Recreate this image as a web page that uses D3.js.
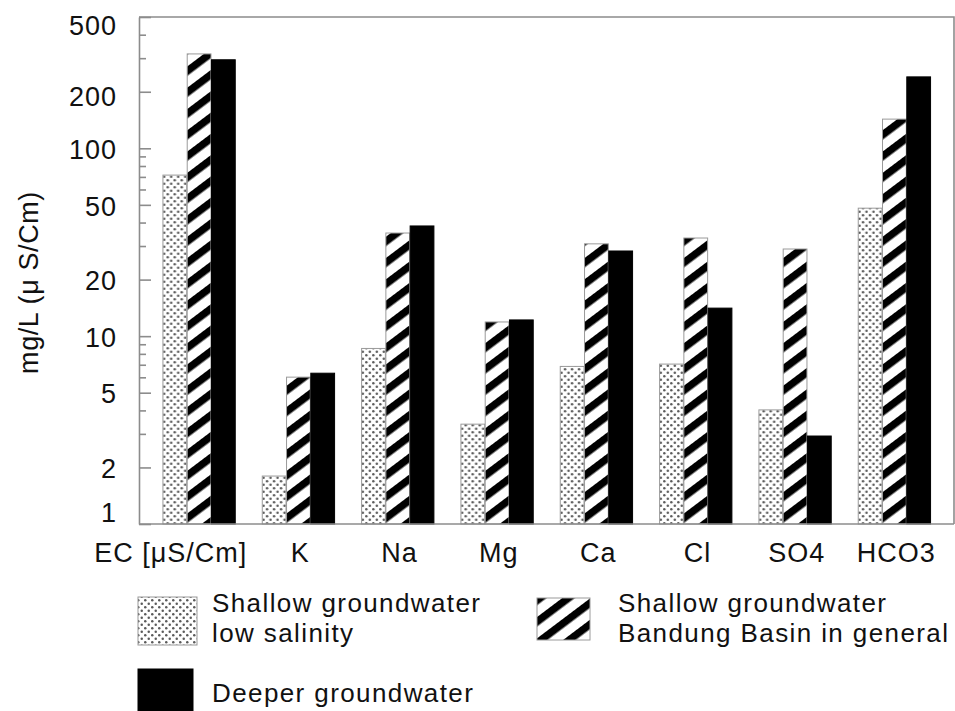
<!DOCTYPE html>
<html>
<head>
<meta charset="utf-8">
<script src="https://cdn.jsdelivr.net/npm/d3@7"></script>
<style>
  html, body { margin: 0; padding: 0; background: #fff; }
  svg text { font-family: "Liberation Sans", Arial, sans-serif; fill: #111; }
</style>
</head>
<body>
<svg id="chart" width="955" height="711"></svg>
<script>
// Mean hydrochemistry of Bandung groundwater groups
const categories = ["EC [μS/Cm]", "K", "Na", "Mg", "Ca", "Cl", "SO4", "HCO3"];
const seriesNames = ["low", "general", "deeper"];
const shallowLowSalinity = [72, 1.8, 8.6, 3.4, 6.9, 7.1, 4.05, 48];
const shallowGeneral = [318, 6.05, 35.4, 11.9, 31, 33.3, 29.1, 143];
const deeperGroundwater = [296, 6.35, 38.6, 12.2, 28.4, 14.1, 2.94, 240];
const majorTicks = [1, 2, 5, 10, 20, 50, 100, 200, 500];
const minorTicks = [3, 4, 6, 7, 8, 9, 30, 40, 60, 70, 80, 90, 300, 400];
const yTitle = "mg/L (μ S/Cm)";
const legendItems = [
  { key: "low", lines: ["Shallow groundwater", "low salinity"] },
  { key: "general", lines: ["Shallow groundwater", "Bandung Basin in general"] },
  { key: "deeper", lines: ["Deeper groundwater"] }
];

const values = { low: shallowLowSalinity, general: shallowGeneral, deeper: deeperGroundwater };
const rows = categories.map((c, i) => ({
  cat: c,
  bars: seriesNames.map(s => ({ key: s, value: values[s][i] }))
}));

const svg = d3.select("#chart");
const margin = { left: 139, top: 17, right: 1, bottom: 187 };
const W = 955, H = 711;
const x0 = margin.left, x1 = W - margin.right;
const yTop = margin.top, yBot = H - margin.bottom;

const FONT = 27, LS = 1.0;
const AXIS_COLOR = "#8c8c8c";

// patterns
const defs = svg.append("defs");
const dots = defs.append("pattern").attr("id", "stipple")
  .attr("patternUnits", "userSpaceOnUse").attr("width", 7).attr("height", 7);
dots.append("rect").attr("width", 7).attr("height", 7).attr("fill", "#fff");
dots.append("circle").attr("cx", 1.75).attr("cy", 1.75).attr("r", 1.25).attr("fill", "#5a5a5a");
dots.append("circle").attr("cx", 5.25).attr("cy", 5.25).attr("r", 1.25).attr("fill", "#5a5a5a");

const hatch = defs.append("pattern").attr("id", "hatch")
  .attr("patternUnits", "userSpaceOnUse").attr("width", 17).attr("height", 17)
  .attr("patternTransform", "rotate(-37)");
hatch.append("rect").attr("width", 17).attr("height", 17).attr("fill", "#fff");
hatch.append("rect").attr("y", 0).attr("width", 17).attr("height", 7.5).attr("fill", "#000");

const fills = { low: "url(#stipple)", general: "url(#hatch)", deeper: "#000" };
const strokes = { low: "#9a9a9a", general: "#9a9a9a", deeper: "#000" };

// scales
const x = d3.scaleBand().domain(categories).range([x0, x1])
  .paddingInner(0.267).paddingOuter(0.236);
const xs = d3.scaleBand().domain(seriesNames).range([0, x.bandwidth()]);
const y = d3.scaleLog().domain([1, 500]).range([yBot, yTop]);

// bars
const groups = svg.append("g").selectAll("g").data(rows).join("g")
  .attr("transform", d => `translate(${x(d.cat)},0)`);
groups.selectAll("rect").data(d => d.bars).join("rect")
  .attr("x", d => xs(d.key) + 0.5)
  .attr("y", d => y(d.value))
  .attr("width", xs.bandwidth() - 0.5)
  .attr("height", d => yBot - y(d.value))
  .attr("fill", d => fills[d.key])
  .attr("stroke", d => strokes[d.key])
  .attr("stroke-width", 1);

// frame: top and right borders
svg.append("path")
  .attr("d", `M${x0},${yTop}H${x1}V${yBot}`)
  .attr("fill", "none").attr("stroke", AXIS_COLOR).attr("stroke-width", 1.6);

// y axis with inward ticks
const yAxis = svg.append("g").attr("transform", `translate(${x0},0)`)
  .call(d3.axisLeft(y).tickValues(majorTicks).tickFormat(d3.format("d"))
    .tickSizeInner(-12).tickSizeOuter(0).tickPadding(22));
yAxis.select(".domain").attr("stroke", AXIS_COLOR).attr("stroke-width", 1.6);
yAxis.selectAll(".tick line").attr("stroke", AXIS_COLOR).attr("stroke-width", 1.6);
yAxis.selectAll(".tick text")
  .attr("font-size", FONT).attr("letter-spacing", LS)
  .attr("font-family", "Liberation Sans, Arial, sans-serif").attr("fill", "#111")
  .attr("dy", d => d === 500 ? "0.66em" : d === 1 ? "-0.08em" : d === 200 ? "0.5em" : "0.38em");
yAxis.append("g").selectAll("line").data(minorTicks).join("line")
  .attr("x1", 0).attr("x2", 7)
  .attr("y1", d => y(d)).attr("y2", d => y(d))
  .attr("stroke", AXIS_COLOR).attr("stroke-width", 1.6);

// x axis line and labels
svg.append("line").attr("x1", x0).attr("x2", x1).attr("y1", yBot).attr("y2", yBot)
  .attr("stroke", AXIS_COLOR).attr("stroke-width", 1.6);
svg.append("g").selectAll("text").data(categories).join("text")
  .attr("x", (d, i) => x(d) + x.bandwidth() / 2 + (i === 0 ? -28 : 2))
  .attr("y", yBot + 38)
  .attr("text-anchor", "middle")
  .attr("font-size", FONT).attr("letter-spacing", LS)
  .text(d => d);

// y title
svg.append("text")
  .attr("transform", `translate(38,${(yTop + yBot) / 2 + 12}) rotate(-90)`)
  .attr("text-anchor", "middle")
  .attr("font-size", FONT).attr("letter-spacing", LS * 0.6)
  .text(yTitle);

// legend
const LEG_FONT = 26, LEG_LINE = 30;
const legendPos = {
  low: { sx: 138, sy: 597, sw: 59, sh: 48, tx: 212, ty: 612 },
  general: { sx: 537, sy: 598, sw: 53, sh: 42, tx: 618, ty: 612 },
  deeper: { sx: 138, sy: 669, sw: 55, sh: 48, tx: 212, ty: 702 }
};
const leg = svg.append("g").selectAll("g").data(legendItems).join("g");
leg.append("rect")
  .attr("x", d => legendPos[d.key].sx).attr("y", d => legendPos[d.key].sy)
  .attr("width", d => legendPos[d.key].sw).attr("height", d => legendPos[d.key].sh)
  .attr("fill", d => fills[d.key]).attr("stroke", d => strokes[d.key]).attr("stroke-width", 1);
leg.append("text")
  .attr("x", d => legendPos[d.key].tx).attr("y", d => legendPos[d.key].ty)
  .attr("font-size", LEG_FONT).attr("letter-spacing", 1.4)
  .each(function(d) {
    const p = legendPos[d.key];
    d3.select(this).selectAll("tspan").data(d.lines).join("tspan")
      .attr("x", p.tx).attr("dy", (t, i) => i === 0 ? 0 : LEG_LINE)
      .text(t => t);
  });
</script>
</body>
</html>
